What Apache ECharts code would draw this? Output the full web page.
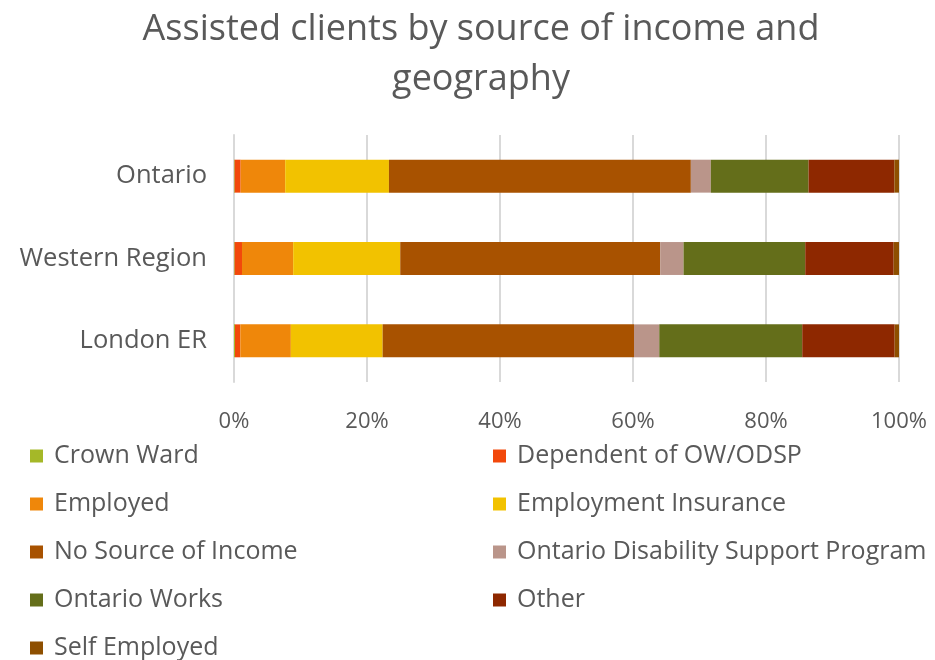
<!DOCTYPE html>
<html>
<head>
<meta charset="utf-8">
<script src="https://cdn.jsdelivr.net/npm/echarts@6/dist/echarts.min.js"></script>
<style>
  html, body { margin: 0; padding: 0; background: #fff; }
  #chart { width: 935px; height: 660px; }
</style>
</head>
<body>
<div id="chart"></div>
<script>
// Regions, listed bottom to top as the category axis draws them
const regions = ['London ER', 'Western Region', 'Ontario'];

// Share of assisted clients (%) by source of income, per region (same order as regions)
const crownWard      = [0.15, 0.1, 0.1];
const dependent      = [0.8, 1.1, 0.9];
const employed       = [7.6, 7.7, 6.7];
const employmentIns  = [13.8, 16.1, 15.6];
const noSource       = [37.8, 39.1, 45.4];
const odsp           = [3.8, 3.5, 3.0];
const ontarioWorks   = [21.5, 18.3, 14.7];
const other          = [13.9, 13.3, 12.9];
const selfEmployed   = [0.65, 0.8, 0.7];

const xTicks = [0, 20, 40, 60, 80, 100];

const seriesDefs = [
  { name: 'Crown Ward', data: crownWard, color: '#A5B828' },
  { name: 'Dependent of OW/ODSP', data: dependent, color: '#F2480B' },
  { name: 'Employed', data: employed, color: '#EF870A' },
  { name: 'Employment Insurance', data: employmentIns, color: '#F2C200' },
  { name: 'No Source of Income', data: noSource, color: '#A85200' },
  { name: 'Ontario Disability Support Program', data: odsp, color: '#BA958A' },
  { name: 'Ontario Works', data: ontarioWorks, color: '#646E1A' },
  { name: 'Other', data: other, color: '#8E2800' },
  { name: 'Self Employed', data: selfEmployed, color: '#8E4F00' }
];

const FONT = '"Open Sans", sans-serif';
const TEXT = '#595959';

const chart = echarts.init(document.getElementById('chart'));

const legendText = { color: TEXT, fontFamily: FONT, fontSize: 25, lineHeight: 28, padding: [0, 0, 0, 6] };

chart.setOption({
  animation: false,
  color: seriesDefs.map(s => s.color),
  title: {
    text: 'Assisted clients by source of income and\ngeography',
    left: 476,
    textAlign: 'center',
    top: 0,
    textStyle: { color: TEXT, fontFamily: FONT, fontSize: 36, fontWeight: 'normal', lineHeight: 50 }
  },
  legend: [
    {
      orient: 'vertical', left: 25, top: 437, height: 240,
      itemWidth: 13, itemHeight: 13, itemGap: 20, icon: 'rect',
      data: ['Crown Ward', 'Employed', 'No Source of Income', 'Ontario Works', 'Self Employed'],
      textStyle: legendText
    },
    {
      orient: 'vertical', left: 488, top: 437, height: 240,
      itemWidth: 13, itemHeight: 13, itemGap: 20, icon: 'rect',
      data: ['Dependent of OW/ODSP', 'Employment Insurance', 'Ontario Disability Support Program', 'Other'],
      textStyle: legendText
    }
  ],
  grid: { left: 234, right: 36, top: 135, bottom: 278, containLabel: false },
  xAxis: {
    type: 'value',
    min: xTicks[0],
    max: xTicks[xTicks.length - 1],
    interval: 20,
    axisLine: { show: false },
    axisTick: { show: false },
    axisLabel: { formatter: '{value}%', color: TEXT, fontFamily: FONT, fontSize: 22, margin: 29 },
    splitLine: { lineStyle: { color: '#D9D9D9', width: 2 } }
  },
  yAxis: {
    type: 'category',
    data: regions,
    axisLine: { show: true, lineStyle: { color: '#D9D9D9', width: 2 } },
    axisTick: { show: false },
    axisLabel: { color: TEXT, fontFamily: FONT, fontSize: 25.5, margin: 27, padding: [4, 0, 0, 0] }
  },
  series: seriesDefs.map(s => ({
    name: s.name,
    type: 'bar',
    stack: 'total',
    barWidth: '40%',
    data: s.data,
    itemStyle: { color: s.color },
    emphasis: { disabled: true }
  }))
});
</script>
</body>
</html>
